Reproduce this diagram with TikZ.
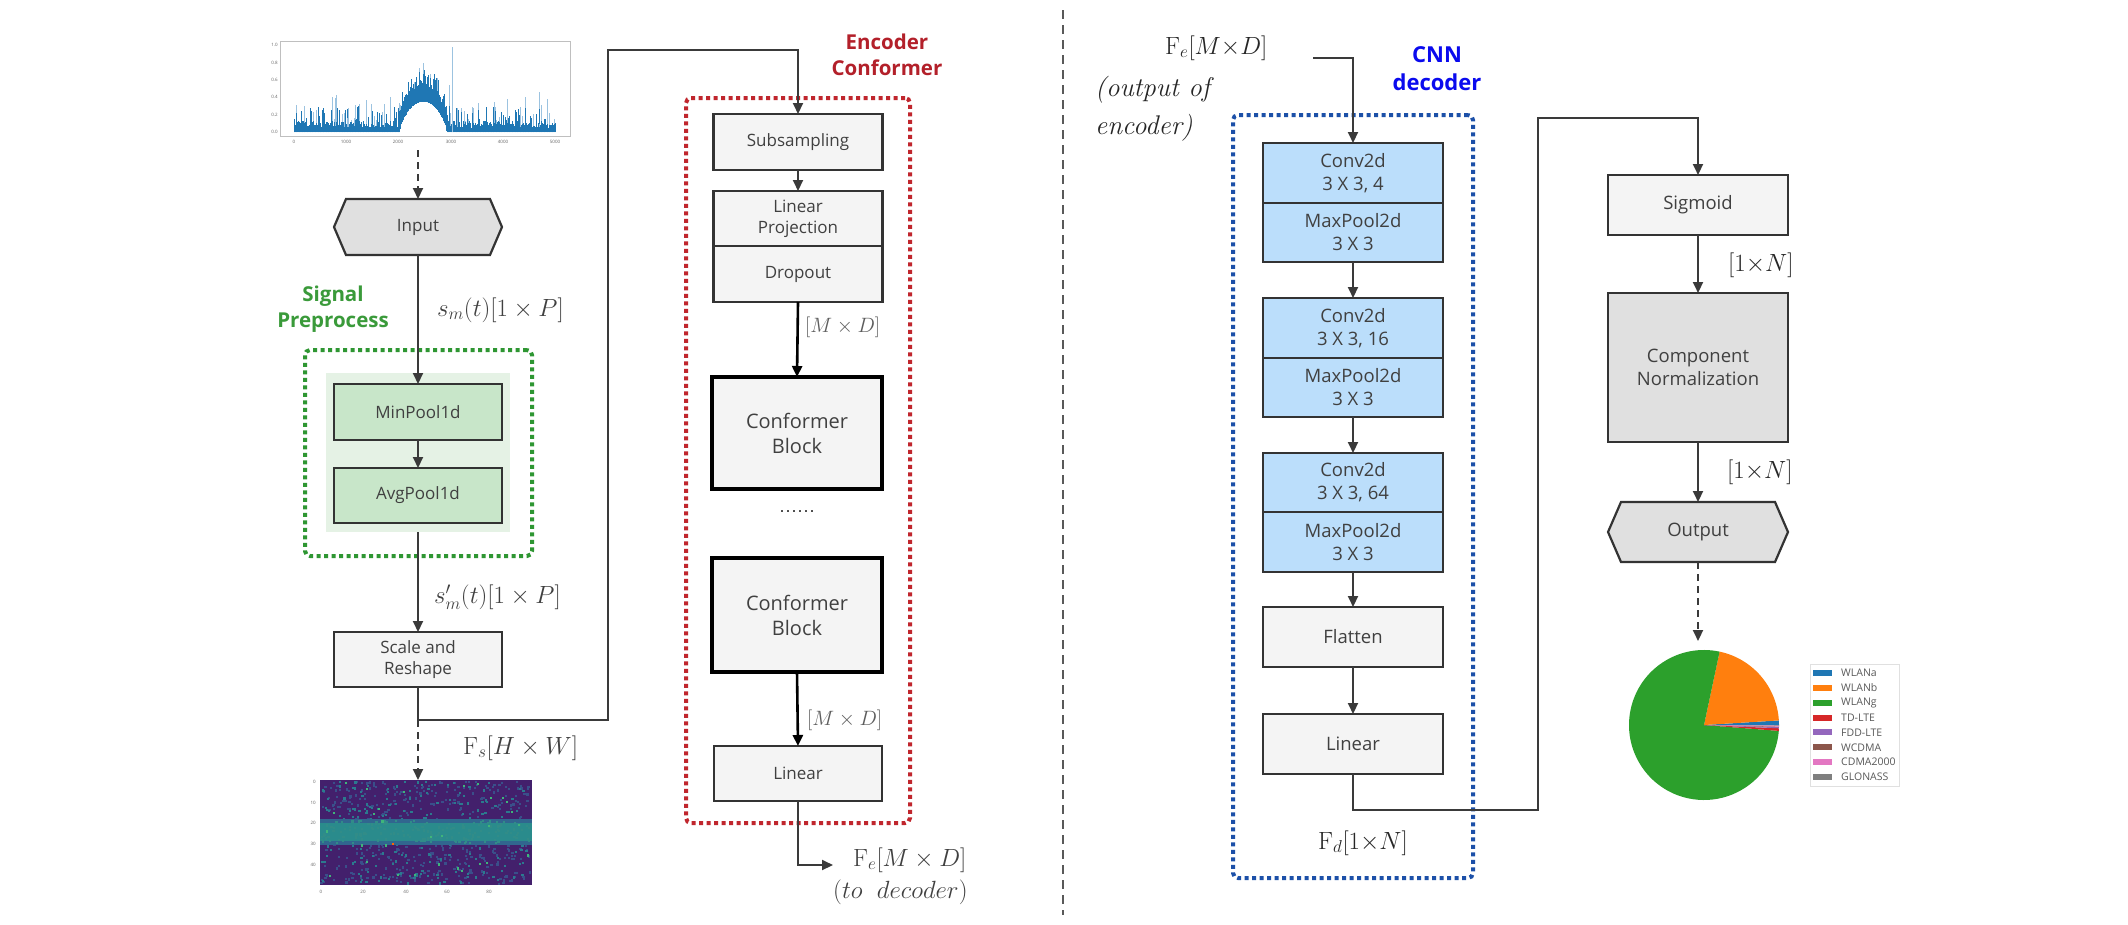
\documentclass[tikz,border=0pt]{standalone}
\usepackage[no-math]{fontspec}
\newfontfamily\bfont{Open Sans}
\usetikzlibrary{arrows.meta}
\definecolor{lineC}{HTML}{3A3A3A}
\definecolor{boxC}{HTML}{333333}
\definecolor{textC}{HTML}{404040}
\definecolor{greyF}{HTML}{F4F4F4}
\definecolor{greyD}{HTML}{E0E0E0}
\definecolor{greenF}{HTML}{C8E6C9}
\definecolor{greenBg}{HTML}{E5F2E5}
\definecolor{blueF}{HTML}{BBDEFB}
\definecolor{grpG}{HTML}{2E9632}
\definecolor{grpR}{HTML}{C0262D}
\definecolor{grpB}{HTML}{1C50A8}
\definecolor{titG}{HTML}{3A9A3A}
\definecolor{titR}{HTML}{B3202A}
\definecolor{titB}{HTML}{0A0AEE}
\definecolor{sigD}{HTML}{1F77B4}
\definecolor{sigL}{HTML}{9CC3E0}
\definecolor{hmBase}{HTML}{43206C}
\definecolor{hmA}{HTML}{3A4F8A}
\definecolor{hmB}{HTML}{2B7A8E}
\definecolor{hmC}{HTML}{3FB57A}
\definecolor{hmBand}{HTML}{2A8B8C}
\definecolor{hmEdge}{HTML}{31668F}
\definecolor{pA}{HTML}{1F77B4}
\definecolor{pB}{HTML}{FF7F0E}
\definecolor{pC}{HTML}{2CA02C}
\definecolor{pD}{HTML}{D62728}
\definecolor{pE}{HTML}{9467BD}
\definecolor{pF}{HTML}{8C564B}
\definecolor{pG}{HTML}{E377C2}
\definecolor{pH}{HTML}{7F7F7F}
\tikzset{
  tip/.style={-{Triangle[length=11pt,width=10pt]}},
  conn/.style={draw=lineC, line width=2pt, tip},
  bconn/.style={draw=black, line width=2.6pt, -{Triangle[length=11pt,width=10pt]}},
  dconn/.style={conn, dash pattern=on 7pt off 5pt},
  box/.style={draw=boxC, line width=2.2pt, fill=greyF, inner sep=0pt, outer sep=0pt,
    align=center, text=textC, font=\bfont\fontsize{17}{21}\selectfont, minimum width=168pt},
  rbox/.style={box, font=\bfont\fontsize{18.5}{23}\selectfont, minimum width=180pt},
  cbox/.style={box, draw=black, line width=3.5pt, font=\bfont\fontsize{20}{25}\selectfont, minimum width=170pt},
  hexnode/.style={box, draw=none, fill=none},
  hexline/.style={draw=boxC, line width=2.2pt, fill=greyD},
  grp/.style={line width=4pt, dash pattern=on 4pt off 3.5pt, rounded corners=5pt, inner sep=0pt, outer sep=0pt},
  title/.style={font=\bfont\bfseries\fontsize{20.5}{26}\selectfont, align=center},
  lab/.style={inner sep=0pt, text=textC, font=\fontsize{24}{28}\selectfont},
  labE/.style={inner sep=0pt, text=textC!85, font=\fontsize{22}{26}\selectfont},
  labR/.style={inner sep=0pt, text=black!85, font=\fontsize{27}{31}\selectfont},
  labI/.style={inner sep=0pt, text=black!85, font=\itshape\fontsize{27}{31}\selectfont},
  tick/.style={inner sep=0pt, text=black!60, font=\bfont\fontsize{4.5}{5}\selectfont},
  leg/.style={inner sep=0pt, anchor=west, text=black!65, font=\bfont\fontsize{10.5}{12}\selectfont},
}
\begin{document}
\begin{tikzpicture}[x=1pt,y=-1pt]
\useasboundingbox (0,0) rectangle (2128,924);
\fill[white] (0,0) rectangle (2128,924);
\pgfmathsetseed{7}

% ================= signal plot =================
\node[draw=black!25, line width=0.8pt, minimum width=290pt, minimum height=95pt, inner sep=0pt, outer sep=0pt] (sigplot) at (425,88.5) {};
\foreach \sigI in {0,...,359}{
  \pgfmathsetmacro\sigU{\sigI/359}
  \pgfmathsetmacro\sigIn{(\sigU>0.4)*(\sigU<0.59)}
  \pgfmathsetmacro\sigH{\sigIn*0.47*sqrt(max(0,sin(180*(\sigU-0.4)/0.19)))}
  \pgfmathsetmacro\sigLo{max(0,\sigH-0.12)*\sigIn}
  \pgfmathsetmacro\sigHi{\sigH+0.05+0.08*rnd+(rnd<0.25)*0.2*rnd}
  \pgfmathsetmacro\sigSp{\sigHi+(rnd<0.2)*(0.35-0.2*\sigIn)*rnd}
  \pgfmathsetmacro\sigX{294+\sigU*261}
  \draw[sigL, line width=0.9pt] (\sigX,{132-\sigLo*87}) -- (\sigX,{132-\sigSp*87});
  \draw[sigD, line width=0.9pt] (\sigX,{132-\sigLo*87}) -- (\sigX,{132-\sigHi*87});
}
\draw[sigL, line width=0.9pt] (452,132) -- (452,47);
\foreach \tv/\ty in {0.0/132,0.2/114.6,0.4/97.2,0.6/79.8,0.8/62.4,1.0/45}{
  \node[tick, anchor=east] at (278,\ty) {\tv};
}
\foreach \tv/\tx in {0/294,1000/346,2000/398,3000/451,4000/503,5000/555}{
  \node[tick] at (\tx,142) {\tv};
}

% ================= left column =================
\node[hexnode, minimum height=56pt] (in) at (418,227) {Input};
\draw[hexline] ([xshift=12pt]in.north west) -- ([xshift=-12pt]in.north east) -- (in.east)
   -- ([xshift=-12pt]in.south east) -- ([xshift=12pt]in.south west) -- (in.west) -- cycle;
\node[hexnode, minimum height=56pt] at (418,227) {Input};

\node[title, text=titG] (tpre) at (333,309) {Signal\\Preprocess};

\node[grp, draw=grpG, minimum width=227pt, minimum height=206pt] (gpre) at (418.5,453) {};
\node[fill=greenBg, inner sep=0pt, outer sep=0pt, minimum width=184pt, minimum height=159pt] (prebg) at (418,452.5) {};
\node[box, fill=greenF, minimum height=56pt] (minp) at (418,412) {MinPool1d};
\node[box, fill=greenF, minimum height=55pt] (avgp) at (418,495.5) {AvgPool1d};
\node[box, minimum height=55pt] (scale) at (418,659.5) {Scale and\\Reshape};

\draw[dconn] ([yshift=-14pt]in.north |- sigplot.south) -- (in.north);
\draw[conn] (in.south) -- (minp.north);
\draw[conn] (minp.south) -- (avgp.north);
\draw[conn] (prebg.south) -- (scale.north);

\node[lab, anchor=west] (lsm) at (437,310) {$s_m(t)[1\times P]$};
\node[lab, anchor=west] (lsmp) at (434,597) {$s'_m(t)[1\times P]$};

% heatmap
\node[fill=hmBase, inner sep=0pt, outer sep=0pt, minimum width=212pt, minimum height=105pt] (hm) at (426,832.5) {};
\foreach \hI in {1,...,520}{
  \pgfmathsetmacro\hX{320+rnd*209.8}\pgfmathsetmacro\hY{780+rnd*102.8}
  \fill[hmA] (\hX,\hY) rectangle ++(2.2,2.2);
}
\foreach \hI in {1,...,220}{
  \pgfmathsetmacro\hX{320+rnd*209.8}\pgfmathsetmacro\hY{780+rnd*102.8}
  \fill[hmB] (\hX,\hY) rectangle ++(2.2,2.2);
}
\fill[hmEdge] (320,819) rectangle (532,845);
\fill[hmBand] (320,823) rectangle (532,841);
\foreach \hI in {1,...,160}{
  \pgfmathsetmacro\hX{320+rnd*209.8}\pgfmathsetmacro\hY{820+rnd*22}
  \fill[hmB!70!hmC] (\hX,\hY) rectangle ++(2.2,2.2);
}
\foreach \hI in {1,...,30}{
  \pgfmathsetmacro\hX{320+rnd*209.8}\pgfmathsetmacro\hY{780+rnd*102.8}
  \fill[hmC] (\hX,\hY) rectangle ++(2.2,2.2);
}
\fill[orange!80!red] (392,843) rectangle ++(2.4,2.4);
\foreach \tv/\ty in {0/782,10/803,20/823,30/844,40/865}{
  \node[tick, anchor=east] at (316,\ty) {\tv};
}
\foreach \tv/\tx in {0/321,20/363,40/406,60/447,80/489}{
  \node[tick] at (\tx,892) {\tv};
}

\coordinate (j1) at (418,720);
\draw[dconn] (j1) -- (j1 |- hm.north);
\node[lab, anchor=west, font=\fontsize{23}{27}\selectfont] (lfs) at (463,748) {$\mathrm{F}_s[H\times W]$};

% ================= encoder =================
\node[title, text=titR] (tenc) at (887,55) {Encoder\\Conformer};
\node[grp, draw=grpR, minimum width=224pt, minimum height=725pt] (genc) at (798,460.5) {};
\node[box, minimum width=169pt, minimum height=56pt] (sub) at (798,142) {Subsampling};
\node[box, minimum width=169pt, minimum height=55pt] (lp) at (798,218.5) {Linear\\Projection};
\node[box, minimum width=169pt, minimum height=56pt] (dr) at (798,274) {Dropout};
\node[cbox, minimum height=112pt] (cb1) at (797,433) {Conformer\\Block};
\node[inner sep=0pt, font=\fontsize{24}{28}\selectfont] (dots) at (797,512) {......};
\node[cbox, minimum height=114pt] (cb2) at (797,615) {Conformer\\Block};
\node[box, minimum width=168pt, minimum height=55pt] (lin) at (798,773.5) {Linear};

\draw[conn] (scale.south) -- (j1) -| (608,50) -| (sub.north);
\draw[conn] (sub.south) -- (lp.north);
\draw[bconn] (dr.south) -- (cb1.north);
\draw[bconn] (cb2.south) -- (lin.north);
\coordinate (encout) at (833,865);
\draw[conn] (lin.south) |- (encout);

\node[labE, anchor=west] (lmd1) at (805,327) {$[M\times D]$};
\node[labE, anchor=west] (lmd2) at (807,720) {$[M\times D]$};
\node[lab, anchor=west] (lfe) at (853,860) {$\mathrm{F}_e[M\times D]$};
\node[lab, anchor=west] (ltd) at (833,892) {$(to\ \ decoder)$};

% separator
\coordinate (sepA) at (1063,10);
\coordinate (sepB) at (1063,915);
\draw[black!65, line width=1.5pt, dash pattern=on 9pt off 6pt] (sepA) -- (sepB);

% ================= decoder =================
\node[labR, anchor=west] (lfe2) at (1165,48) {$\mathrm{F}_e[M{\times}D]$};
\node[labI, anchor=west] (lo1) at (1095,90) {(output of};
\node[labI, anchor=west] (lo2) at (1095,128) {encoder)};
\node[title, text=titB, font=\bfont\bfseries\fontsize{22}{28}\selectfont] (tdec) at (1437,69) {CNN\\decoder};
\node[grp, draw=grpB, minimum width=240pt, minimum height=763pt] (gdec) at (1353,496.5) {};

\node[rbox, fill=blueF, minimum height=60pt] (c1) at (1353,173) {Conv2d\\3 X 3, 4};
\node[rbox, fill=blueF, minimum height=59pt] (m1) at (1353,232.5) {MaxPool2d\\3 X 3};
\node[rbox, fill=blueF, minimum height=60pt] (c2) at (1353,328) {Conv2d\\3 X 3, 16};
\node[rbox, fill=blueF, minimum height=59pt] (m2) at (1353,387.5) {MaxPool2d\\3 X 3};
\node[rbox, fill=blueF, minimum height=59pt] (c3) at (1353,482.5) {Conv2d\\3 X 3, 64};
\node[rbox, fill=blueF, minimum height=60pt] (m3) at (1353,542) {MaxPool2d\\3 X 3};
\node[rbox, minimum height=60pt] (fl) at (1353,637) {Flatten};
\node[rbox, minimum height=60pt] (ln) at (1353,744) {Linear};

\coordinate (decin) at (1313,58);
\draw[conn] (decin) -| (c1.north);
\draw[conn] (m1.south) -- (c2.north);
\draw[conn] (m2.south) -- (c3.north);
\draw[conn] (m3.south) -- (fl.north);
\draw[conn] (fl.south) -- (ln.north);

\node[labR] (lfd) at (1363,843) {$\mathrm{F}_d[1{\times}N]$};

% ================= output side =================
\node[rbox, minimum height=60pt] (sg) at (1698,205) {Sigmoid};
\node[rbox, fill=greyD, minimum height=149pt] (cn) at (1698,367.5) {Component\\Normalization};
\node[hexnode, font=\bfont\fontsize{18.5}{23}\selectfont, minimum width=180pt, minimum height=60pt] (out) at (1698,532) {Output};
\draw[hexline] ([xshift=13pt]out.north west) -- ([xshift=-13pt]out.north east) -- (out.east)
   -- ([xshift=-13pt]out.south east) -- ([xshift=13pt]out.south west) -- (out.west) -- cycle;
\node[hexnode, font=\bfont\fontsize{18.5}{23}\selectfont, minimum width=180pt, minimum height=60pt] at (1698,532) {Output};

\coordinate (jd1) at (1353,810);
\coordinate (jd2) at (1538,118);
\draw[conn] (ln.south) -- (jd1) -| (jd2) -| (sg.north);
\draw[conn] (sg.south) -- (cn.north);
\draw[conn] (cn.south) -- (out.north);
\node[labR, anchor=west] (l1n1) at (1728,265) {$[1{\times}N]$};
\node[labR, anchor=west] (l1n2) at (1727,472) {$[1{\times}N]$};

% pie
\node[circle, inner sep=0pt, outer sep=0pt, minimum size=150pt] (pie) at (1704,725) {};
\begin{scope}[shift={(1704,725)}, y=1pt]
  \fill[pA] (0,0) -- (0:75pt) arc[start angle=0, end angle=3.5, radius=75pt] -- cycle;
  \fill[pB] (0,0) -- (3.5:75pt) arc[start angle=3.5, end angle=78, radius=75pt] -- cycle;
  \fill[pC] (0,0) -- (78:75pt) arc[start angle=78, end angle=355.5, radius=75pt] -- cycle;
  \fill[pD] (0,0) -- (355.5:75pt) arc[start angle=355.5, end angle=357.5, radius=75pt] -- cycle;
  \fill[pE] (0,0) -- (357.5:75pt) arc[start angle=357.5, end angle=358.3, radius=75pt] -- cycle;
  \fill[pF] (0,0) -- (358.3:75pt) arc[start angle=358.3, end angle=358.8, radius=75pt] -- cycle;
  \fill[pG] (0,0) -- (358.8:75pt) arc[start angle=358.8, end angle=359.6, radius=75pt] -- cycle;
  \fill[pH] (0,0) -- (359.6:75pt) arc[start angle=359.6, end angle=360, radius=75pt] -- cycle;
\end{scope}
\draw[dconn] (out.south) -- ([yshift=9pt]out.south |- pie.north);

% legend
\node[draw=black!12, fill=white, line width=0.8pt, inner sep=0pt, minimum width=89pt, minimum height=122pt] (legend) at (1854.5,725) {};
\foreach \lc/\ln [count=\k from 0] in {pA/WLANa,pB/WLANb,pC/WLANg,pD/TD-LTE,pE/FDD-LTE,pF/WCDMA,pG/CDMA2000,pH/GLONASS}{
  \pgfmathsetmacro\ly{673+\k*14.86}
  \fill[\lc] (1813,\ly-3) rectangle (1832,\ly+3);
  \node[leg] at (1841,\ly) {\ln};
}
\end{tikzpicture}
\end{document}
